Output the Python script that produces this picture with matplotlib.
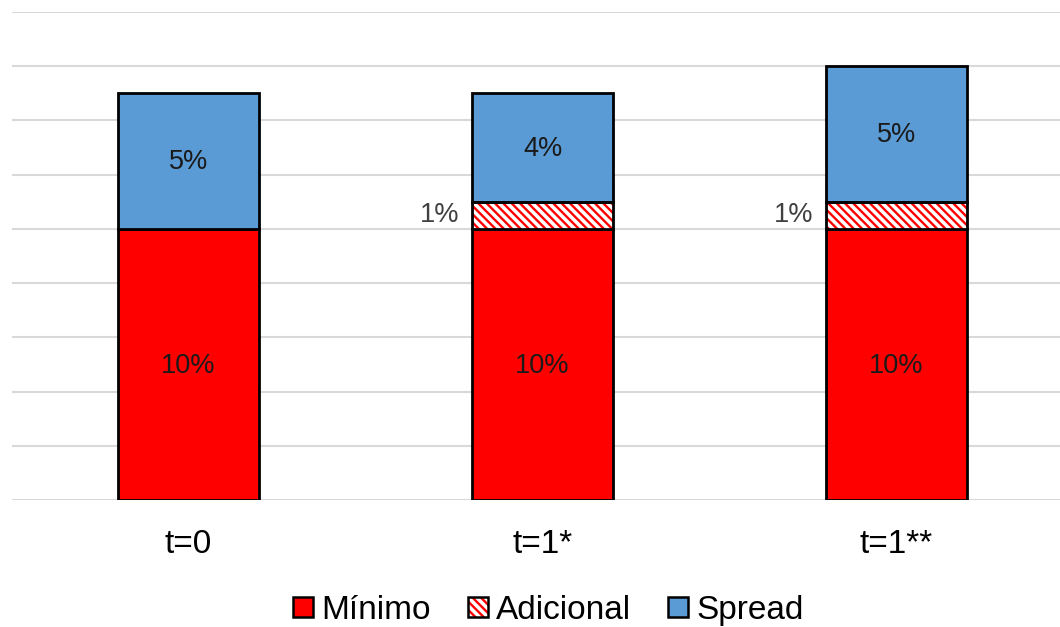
import matplotlib.pyplot as plt
from matplotlib.patches import Patch
import numpy as np

plt.rcParams["font.family"] = ["Liberation Sans", "DejaVu Sans"]
plt.rcParams["hatch.linewidth"] = 1.7

categories = ["t=0", "t=1*", "t=1**"]
minimo = [10, 10, 10]
adicional = [0, 1, 1]
spread = [5, 4, 5]

red = "#FF0000"
blue = "#5B9BD5"
width = 0.40
stripes = "\\\\\\\\"

fig = plt.figure(figsize=(10.6, 6.27), dpi=100)
ax = fig.add_axes([11.5 / 1060, 1 - 500 / 627, 1062 / 1060, 488 / 627])

x = np.arange(len(categories))
mi = np.array(minimo)
ad = np.array(adicional)
sp = np.array(spread)

ax.bar(x, mi, width, color=red, edgecolor="black", linewidth=2, zorder=3)
# hatch takes the edge colour, so draw the stripes first and the black outline on top
ax.bar(x, ad, width, bottom=mi, facecolor="white", edgecolor=red,
       hatch=stripes, linewidth=0, zorder=3)
ax.bar(x, ad, width, bottom=mi, fill=False, edgecolor="black",
       linewidth=np.where(ad > 0, 2, 0), zorder=4)
ax.bar(x, sp, width, bottom=mi + ad, color=blue, edgecolor="black",
       linewidth=2, zorder=3)

for i in range(len(categories)):
    ax.text(x[i], mi[i] / 2 - 0.05, f"{minimo[i]}%", ha="center", va="center",
            fontsize=19.5, color="#1a1a1a", zorder=5)
    ax.text(x[i], mi[i] + ad[i] + sp[i] / 2 - 0.05, f"{spread[i]}%", ha="center",
            va="center", fontsize=19.5, color="#1a1a1a", zorder=5)
    if ad[i] > 0:
        ax.text(x[i] - width / 2 - 0.035, mi[i] + ad[i] / 2, f"{adicional[i]}%",
                ha="right", va="center", fontsize=19.5, color="#404040", zorder=5)

ax.set_xlim(-0.5, 2.5)
ax.set_ylim(0, 18)
ax.set_yticks(np.arange(0, 19, 2))
ax.yaxis.grid(True, color="#D9D9D9", linewidth=1.5, zorder=0)
ax.set_axisbelow(True)
ax.set_xticks(x)
ax.set_xticklabels(categories, fontsize=24)
ax.tick_params(axis="x", length=0, pad=21)
ax.tick_params(axis="y", length=0, labelleft=False)
for s in ax.spines.values():
    s.set_visible(False)

handles = [
    Patch(facecolor=red, edgecolor="black", linewidth=1.8),
    (Patch(facecolor="white", edgecolor=red, hatch=stripes, linewidth=0),
     Patch(fill=False, edgecolor="black", linewidth=1.8)),
    Patch(facecolor=blue, edgecolor="black", linewidth=1.8),
]
fig.legend(handles, ["Mínimo", "Adicional", "Spread"], loc="center",
           bbox_to_anchor=(0.5175, 0.027), ncol=3, frameon=False, fontsize=24,
           handlelength=0.6, handleheight=0.55, handletextpad=0.25,
           columnspacing=1.1, borderpad=0)

fig.savefig("out.png", dpi=100)
